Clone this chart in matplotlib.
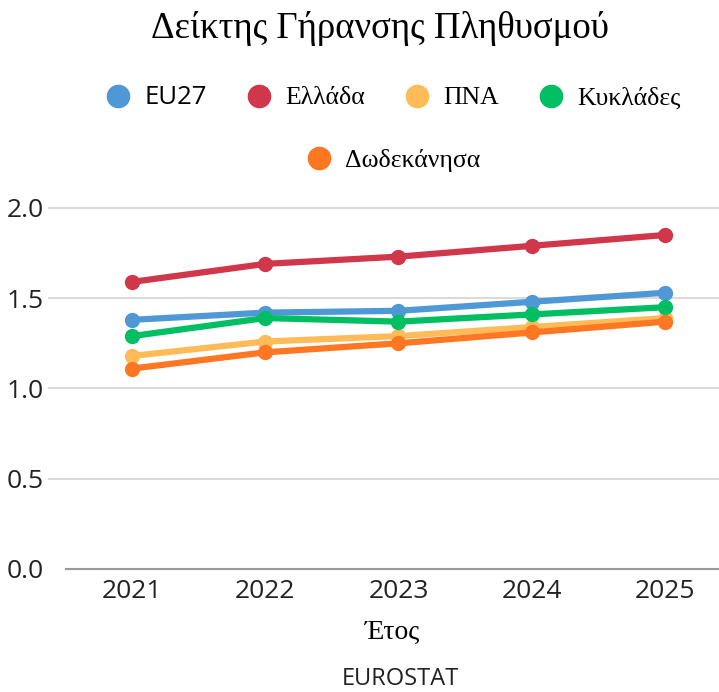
import matplotlib
matplotlib.use("Agg")
import matplotlib.pyplot as plt
from matplotlib.lines import Line2D

# data
years = [2021, 2022, 2023, 2024, 2025]
names = ["EU27", "Ελλάδα", "ΠΝΑ", "Κυκλάδες", "Δωδεκάνησα"]
eu27 = [1.38, 1.42, 1.43, 1.48, 1.53]
ellada = [1.59, 1.69, 1.73, 1.79, 1.85]
pna = [1.18, 1.26, 1.29, 1.34, 1.39]
kyklades = [1.29, 1.39, 1.37, 1.41, 1.45]
dodekanisa = [1.11, 1.20, 1.25, 1.31, 1.37]
yticks = [0.0, 0.5, 1.0, 1.5, 2.0]
colors = ["#4f98d6", "#d0374a", "#ffbb58", "#00bf63", "#ff7722"]

SANS = "Open Sans"
SERIF = "Liberation Serif"

fig = plt.figure(figsize=(7.19, 6.92), dpi=100)
ax = fig.add_axes([66 / 719, 123 / 692, 653 / 719, 362 / 692])

series = [eu27, ellada, pna, kyklades, dodekanisa]
for vals, col in zip(series, colors):
    ax.plot(years, vals, color=col, lw=4.5, marker="o", ms=10,
            solid_capstyle="round", clip_on=False)

ax.set_xlim(2020.505, 2025.405)
ax.set_ylim(0, 2.005)
ax.set_xticks(years)
ax.set_yticks(yticks)
ax.set_yticklabels([f"{v:.1f}" for v in yticks])
ax.grid(axis="y", color="#d3d3d3", lw=1.2)
ax.set_axisbelow(True)
for s in ["top", "right", "left"]:
    ax.spines[s].set_visible(False)
ax.spines["bottom"].set_color("#9a9a9a")
ax.spines["bottom"].set_linewidth(1.5)
ax.tick_params(axis="y", length=13, color="#d3d3d3", width=1.2, pad=3)
ax.tick_params(axis="x", length=0, pad=7)
ax.yaxis.get_major_ticks()[0].tick1line.set_visible(False)
for lbl in ax.get_xticklabels() + ax.get_yticklabels():
    lbl.set_fontfamily(SANS)
    lbl.set_fontsize(19)
    lbl.set_color("#222222")

ax.set_xlabel("Έτος", fontfamily=SERIF, fontsize=20, labelpad=12)

fig.text(0.5 + 20 / 719, 1 - 28 / 692, "Δείκτης Γήρανσης Πληθυσμού", ha="center", va="center",
         fontfamily=SERIF, fontsize=26.5)
fig.text(400 / 719, 1 - 679 / 692, "EUROSTAT", ha="center", va="center",
         fontfamily=SANS, fontsize=17, color="#222222")

handles = [Line2D([], [], ls="none", marker="o", ms=16, color=c) for c in colors]
leg_kw = dict(loc="center", frameon=False, handlelength=1.0, handletextpad=0.5,
              columnspacing=1.55, prop={"family": SERIF, "size": 18.5})
leg1 = fig.legend(handles[:4], names[:4], ncol=4,
                  bbox_to_anchor=(393 / 719, 1 - 98 / 692), **leg_kw)
leg1.get_texts()[0].set_fontfamily(SANS)
fig.legend(handles[4:], names[4:], ncol=1,
           bbox_to_anchor=(393 / 719, 1 - 160 / 692), **leg_kw)

fig.savefig("out.png", dpi=100)
